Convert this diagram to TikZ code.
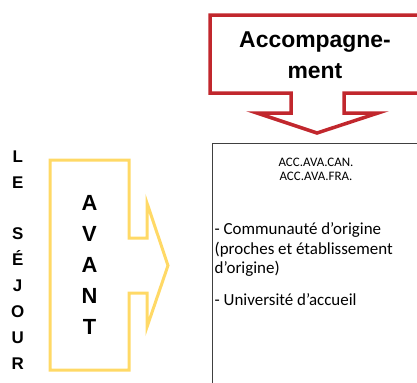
\documentclass[tikz,border=0pt]{standalone}
\usepackage{fontspec}
\setmainfont{Liberation Sans}
\newfontfamily\calib{Carlito}
\definecolor{redline}{HTML}{C1272D}
\definecolor{yelline}{HTML}{FFD966}
\definecolor{boxline}{HTML}{404040}
\tikzset{
  bigtxt/.style={font=\fontsize{23}{31.6}\selectfont\bfseries, inner sep=0pt},
  sidetxt/.style={font=\fontsize{17}{26}\selectfont\bfseries, inner sep=0pt, align=center},
  avtxt/.style={font=\fontsize{22}{31}\selectfont\bfseries, inner sep=0pt, align=center},
  codetxt/.style={font=\calib\fontsize{13}{14}\selectfont, inner sep=0pt},
  bodytxt/.style={font=\calib\fontsize{17}{19.6}\selectfont, inner sep=0pt},
}
\begin{document}
\begin{tikzpicture}[x=1bp,y=-1bp]
\useasboundingbox (0,0) rectangle (417,383);
\clip (0,0) rectangle (417,383);
% red callout
\draw[redline, line width=3.5bp, line join=miter]
  (440,15) -- (210,15) -- (210,93) -- (291,93) -- (291,113) -- (257,113)
  -- (317,133) -- (378,113) -- (344,113) -- (344,93) -- (440,93);
\node[bigtxt, anchor=base] (acc1) at (315,47) {Accompagne-};
\node[bigtxt, anchor=base] (acc2) at (315,78.5) {ment};
% black box
\draw[boxline, line width=0.9bp] (212,400) -- (212,143) -- (440,143);
\node[codetxt, anchor=base] (can) at (316,166) {ACC.AVA.CAN.};
\node[codetxt, anchor=base] (fra) at (316,180) {ACC.AVA.FRA.};
\node[bodytxt, anchor=base west] (l1) at (214.5,234.3) {- Communauté d’origine};
\node[bodytxt, anchor=base west] (l2) at (214.5,254.2) {(proches et établissement};
\node[bodytxt, anchor=base west] (l3) at (214.5,273.8) {d’origine)};
\node[bodytxt, anchor=base west] (l4) at (214.5,305) {- Université d’accueil};
% yellow arrow
\draw[yelline, line width=3bp, line join=miter]
  (50,160) -- (129,160) -- (129,238) -- (147,238) -- (147,203) -- (168,265.5)
  -- (147,327) -- (147,293) -- (129,293) -- (129,370) -- (50,370) -- cycle;
\node[avtxt] (avant) at (89.5,265) {A\\V\\A\\N\\T};
\node[sidetxt] (sejour) at (17.7,260) {L\\E\\\mbox{}\\S\\É\\J\\O\\U\\R};
\end{tikzpicture}
\end{document}
